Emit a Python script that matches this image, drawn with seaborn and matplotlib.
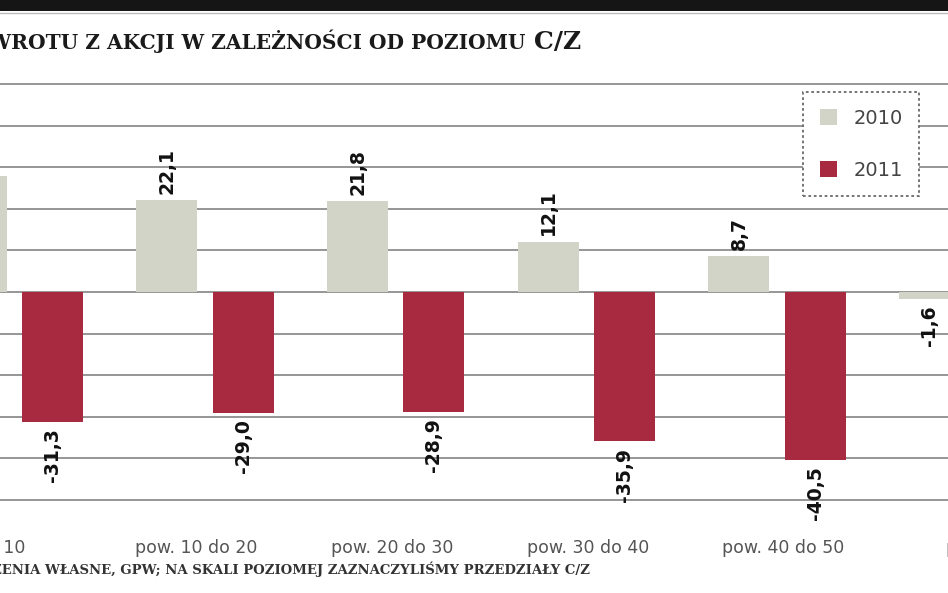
import numpy as np
import pandas as pd
import matplotlib
matplotlib.use("Agg")
import matplotlib.pyplot as plt
import seaborn as sns
from matplotlib.patches import Rectangle
from matplotlib.lines import Line2D

# ---------------- data ----------------
categories = ["do 10", "pow. 10 do 20", "pow. 20 do 30", "pow. 30 do 40",
              "pow. 40 do 50", "pow. 50"]
years = ["2010", "2011"]
values_2010 = [28.0, 22.1, 21.8, 12.1, 8.7, -1.6]
values_2011 = [-31.3, -29.0, -28.9, -35.9, -40.5, np.nan]
yticks = list(range(-50, 51, 10))

title_text = "STOPA ZWROTU Z AKCJI W ZALEŻNOŚCI OD POZIOMU"
title_tail = "C/Z"
footer_text = "ŹRÓDŁO: OBLICZENIA WŁASNE, GPW; NA SKALI POZIOMEJ ZAZNACZYLIŚMY PRZEDZIAŁY C/Z"

color_2010 = "#D3D4C8"
color_2011 = "#A82A41"

rows = []
for cat, a, b in zip(categories, values_2010, values_2011):
    rows.append({"cat": cat, "year": years[0], "value": a})
    rows.append({"cat": cat, "year": years[1], "value": b})
df = pd.DataFrame(rows).dropna()

# ---------------- layout ----------------
W, H = 948, 593
sns.set_style("white")
plt.rcParams["font.family"] = ["DejaVu Sans"]

fig = plt.figure(figsize=(W / 100, H / 100), dpi=100)

# visible window of the (cropped) chart in data units
vis_left, vis_right = -0.075, 4.896
xlim = (-0.6, 5.6)
span = vis_right - vis_left
ax_left = (xlim[0] - vis_left) / span
ax_width = (xlim[1] - xlim[0]) / span
ax_bottom = (H - 500) / H
ax_height = (500 - 84) / H
ax = fig.add_axes([ax_left, ax_bottom, ax_width, ax_height])

sns.barplot(data=df, x="cat", y="value", hue="year", order=categories,
            hue_order=years, palette=[color_2010, color_2011],
            width=0.8, gap=0.2, saturation=1, linewidth=0, ax=ax)

ax.set_xlim(*xlim)
ax.set_ylim(-50, 50)
ax.set_yticks(yticks)
ax.set_axisbelow(True)
ax.yaxis.grid(True, color="#8e8e8e", linewidth=1.3)
for gl in ax.get_ygridlines():
    gl.set_clip_on(False)
ax.xaxis.grid(False)
for s in ax.spines.values():
    s.set_visible(False)
ax.tick_params(axis="y", length=0, labelleft=False)

# tick labels (slightly wider spacing than the bar groups, as in the source)
label_step, label_offset = 1.0266, -0.073
tick_pos = np.arange(len(categories)) * label_step + label_offset
ax.set_xticks(tick_pos, labels=categories)
ax.tick_params(axis="x", length=0, pad=28, labelsize=12.5, labelcolor="#555555")
ax.set_xlabel("")
ax.set_ylabel("")

# value labels
for cont in ax.containers:
    labs = [f"{v:.1f}".replace(".", ",") for v in cont.datavalues]
    ax.bar_label(cont, labels=labs, padding=4.5, rotation=90, fontsize=13.5,
                 fontweight="bold", color="#111111", clip_on=False)

# legend
handles, labels = ax.get_legend_handles_labels()
if ax.get_legend() is not None:
    ax.get_legend().remove()
leg = fig.legend(handles, labels, loc="upper left",
                 bbox_to_anchor=(803 / W, 1 - 92 / H),
                 bbox_transform=fig.transFigure, borderaxespad=0,
                 fontsize=14, frameon=True, fancybox=False, framealpha=1,
                 borderpad=0.85, labelspacing=1.72, handlelength=0.9,
                 handleheight=0.9, handletextpad=0.85)
fr = leg.get_frame()
fr.set_linestyle((0, (1.5, 1.5)))
fr.set_edgecolor("#6a6a6a")
fr.set_linewidth(1.3)
for t in leg.get_texts():
    t.set_color("#444444")

# top black band
fig.patches.append(Rectangle((0, 1 - 11 / H), 1, 11 / H, transform=fig.transFigure,
                             facecolor="#151515", edgecolor="none", zorder=5))
fig.lines.append(Line2D([0, 1], [1 - 12.5 / H, 1 - 12.5 / H], transform=fig.transFigure,
                        color="#bbbbbb", linewidth=1))

# title (cropped on the left)
fig.text(526 / W, 1 - 49 / H, title_text, ha="right", va="baseline",
         family="DejaVu Serif", fontweight="bold", fontsize=14.5, color="#1a1a1a")
fig.text(534 / W, 1 - 49 / H, title_tail, ha="left", va="baseline",
         family="DejaVu Serif", fontweight="bold", fontsize=18, color="#1a1a1a")

# footer (cropped on the left)
fig.text(590 / W, 1 - 574 / H, footer_text, ha="right", va="baseline",
         family="DejaVu Serif", fontweight="bold", fontsize=9.5, color="#333333")

fig.savefig("out.png", dpi=100, facecolor="white")
